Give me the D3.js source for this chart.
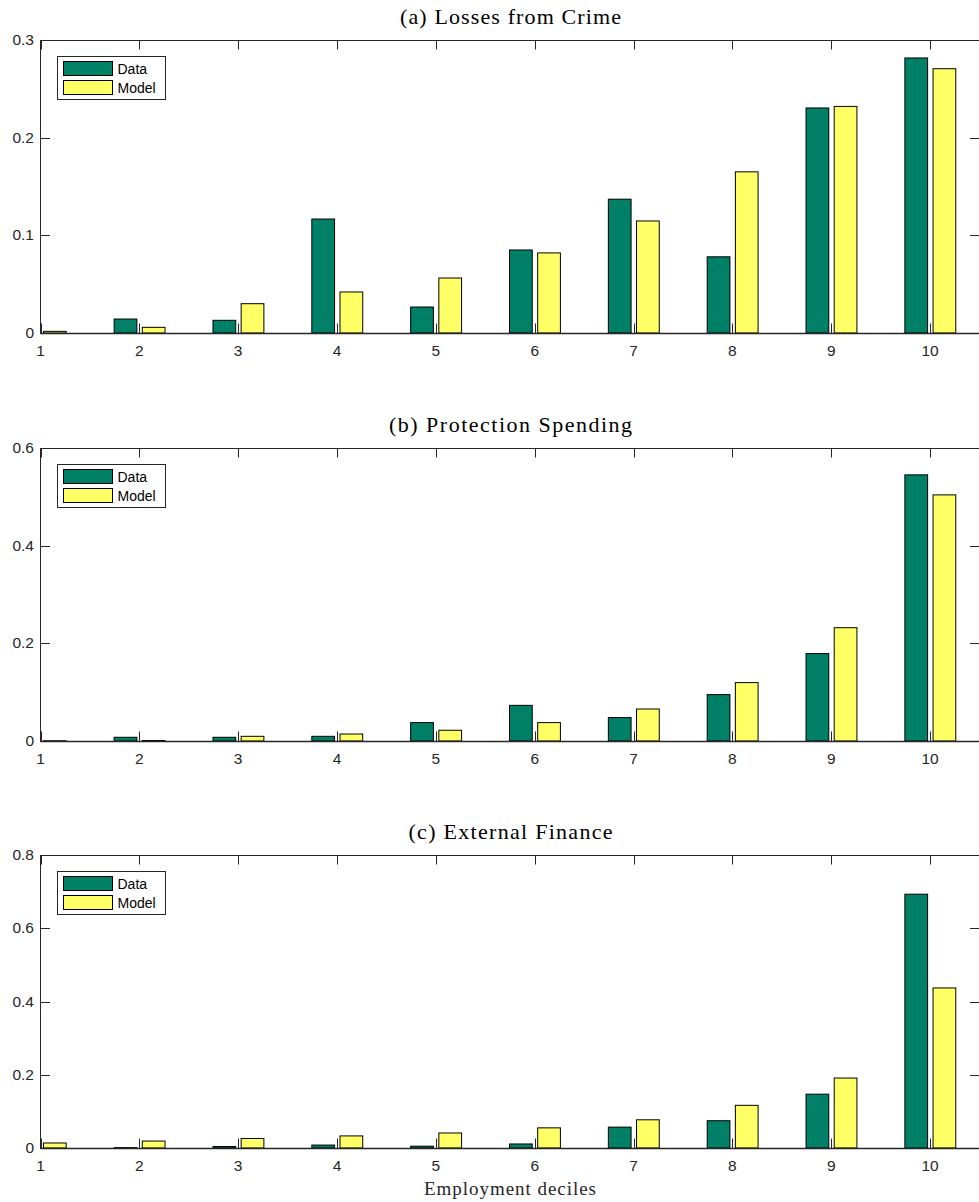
<!DOCTYPE html>
<html>
<head>
<meta charset="utf-8">
<script src="https://cdn.jsdelivr.net/npm/d3@7"></script>
<style>
  html, body { margin: 0; padding: 0; background: #ffffff; }
  svg { display: block; }
</style>
</head>
<body>
<script>
// Deciles of firm employment
const deciles = [1, 2, 3, 4, 5, 6, 7, 8, 9, 10];

// (a) Losses from crime
const lossData  = [0.002, 0.0143, 0.013, 0.1167, 0.0266, 0.085, 0.137, 0.078, 0.2304, 0.2816];
const lossModel = [0.0017, 0.0058, 0.030, 0.042, 0.0563, 0.082, 0.1147, 0.165, 0.232, 0.2706];
const lossTicks = [0, 0.1, 0.2, 0.3];

// (b) Protection spending
const protData  = [0.001, 0.0076, 0.0076, 0.0096, 0.0377, 0.073, 0.048, 0.095, 0.179, 0.545];
const protModel = [0.0005, 0.001, 0.0096, 0.0143, 0.022, 0.0377, 0.0655, 0.1196, 0.232, 0.504];
const protTicks = [0, 0.2, 0.4, 0.6];

// (c) External finance
const finData  = [0.001, 0.001, 0.004, 0.008, 0.005, 0.011, 0.057, 0.0745, 0.147, 0.693];
const finModel = [0.0137, 0.019, 0.026, 0.033, 0.041, 0.055, 0.077, 0.1165, 0.191, 0.437];
const finTicks = [0, 0.2, 0.4, 0.6, 0.8];

const seriesNames = ["Data", "Model"];
const panelTitles = ["(a) Losses from Crime", "(b) Protection Spending", "(c) External Finance"];
const xLabel = "Employment deciles";

const W = 979, H = 1202;
const colData = "#008066", colModel = "#ffff66";
const axisCol = "#262626";
const tickFont = "Liberation Sans, Arial, sans-serif";
const serifFont = "Liberation Serif, 'Times New Roman', serif";

const svg = d3.select("body").append("svg")
  .attr("width", W).attr("height", H)
  .attr("viewBox", `0 0 ${W} ${H}`);

const x = d3.scaleLinear().domain([1, 10.5]).range([40.5, 979.5]);
const barW = x(1.23) - x(1);
const offData = -0.14, offModel = 0.145;
const tickLen = 9.5;

const panels = [
  { title: panelTitles[0], data: lossData, model: lossModel, ticks: lossTicks, top: 40,  titleW: 221 },
  { title: panelTitles[1], data: protData, model: protModel, ticks: protTicks, top: 448, titleW: 243 },
  { title: panelTitles[2], data: finData,  model: finModel,  ticks: finTicks,  top: 855, titleW: 204 }
];
const plotH = 293;

panels.forEach((p, i) => {
  const top = p.top, bottom = top + plotH;
  const y = d3.scaleLinear().domain([0, d3.max(p.ticks)]).range([bottom, top]);
  const g = svg.append("g");

  const clipId = "clip" + i;
  svg.append("clipPath").attr("id", clipId)
    .append("rect").attr("x", x(1)).attr("y", top).attr("width", x(10.5) - x(1)).attr("height", plotH);

  const bars = g.append("g").attr("clip-path", `url(#${clipId})`);
  const rows = deciles.map((d, k) => ({ d, data: p.data[k], model: p.model[k] }));

  bars.selectAll("rect.data").data(rows).join("rect")
    .attr("class", "data")
    .attr("x", r => x(r.d + offData) - barW / 2)
    .attr("y", r => y(r.data))
    .attr("width", barW)
    .attr("height", r => y(0) - y(r.data))
    .attr("fill", colData).attr("stroke", "#000").attr("stroke-width", 1);

  bars.selectAll("rect.model").data(rows).join("rect")
    .attr("class", "model")
    .attr("x", r => x(r.d + offModel) - barW / 2)
    .attr("y", r => y(r.model))
    .attr("width", barW)
    .attr("height", r => y(0) - y(r.model))
    .attr("fill", colModel).attr("stroke", "#000").attr("stroke-width", 1);

  // Axes box
  g.append("rect")
    .attr("x", x(1)).attr("y", top + 0.5)
    .attr("width", x(10.5) - x(1)).attr("height", plotH)
    .attr("fill", "none").attr("stroke", axisCol).attr("stroke-width", 1);

  // Inward ticks on all four sides
  const tk = g.append("g").attr("stroke", axisCol).attr("stroke-width", 1);
  deciles.forEach(d => {
    const xx = Math.round(x(d)) + 0.5;
    tk.append("line").attr("x1", xx).attr("x2", xx).attr("y1", bottom).attr("y2", bottom - tickLen);
    tk.append("line").attr("x1", xx).attr("x2", xx).attr("y1", top).attr("y2", top + tickLen);
  });
  p.ticks.forEach(t => {
    const yy = Math.round(y(t)) + 0.5;
    tk.append("line").attr("x1", x(1)).attr("x2", x(1) + tickLen).attr("y1", yy).attr("y2", yy);
    tk.append("line").attr("x1", x(10.5)).attr("x2", x(10.5) - tickLen).attr("y1", yy).attr("y2", yy);
  });

  // Baseline
  g.append("line").attr("x1", x(1)).attr("x2", x(10.5))
    .attr("y1", y(0) + 0.5).attr("y2", y(0) + 0.5)
    .attr("stroke", axisCol).attr("stroke-width", 1.5);

  // Tick labels
  g.append("g").selectAll("text").data(deciles).join("text")
    .attr("x", d => x(d)).attr("y", bottom + 23)
    .attr("text-anchor", "middle")
    .attr("font-family", tickFont).attr("font-size", 15.5).attr("fill", axisCol)
    .text(d => d);
  g.append("g").selectAll("text").data(p.ticks).join("text")
    .attr("x", 34).attr("y", t => y(t) + 5)
    .attr("text-anchor", "end")
    .attr("font-family", tickFont).attr("font-size", 15.5).attr("fill", axisCol)
    .text(t => d3.format("~g")(t));

  // Title
  g.append("text")
    .attr("x", 510.5).attr("y", top - 16)
    .attr("text-anchor", "middle")
    .attr("font-family", serifFont).attr("font-size", 22).attr("fill", "#000")
    .attr("textLength", p.titleW).attr("lengthAdjust", "spacing")
    .text(p.title);

  // Legend
  const lg = g.append("g").attr("transform", `translate(57.5, ${top + 16.5})`);
  lg.append("rect").attr("width", 108).attr("height", 43)
    .attr("fill", "#fff").attr("stroke", axisCol).attr("stroke-width", 1);
  [colData, colModel].forEach((c, k) => {
    lg.append("rect").attr("x", 6).attr("y", 5 + k * 19).attr("width", 49).attr("height", 14)
      .attr("fill", c).attr("stroke", "#000").attr("stroke-width", 1);
    lg.append("text").attr("x", 60).attr("y", 17 + k * 19)
      .attr("font-family", tickFont).attr("font-size", 14).attr("fill", "#000")
      .text(seriesNames[k]);
  });
});

svg.append("text")
  .attr("x", 510).attr("y", 1195)
  .attr("text-anchor", "middle")
  .attr("font-family", serifFont).attr("font-size", 19).attr("fill", "#262626")
  .attr("textLength", 172).attr("lengthAdjust", "spacing")
  .text(xLabel);
</script>
</body>
</html>
